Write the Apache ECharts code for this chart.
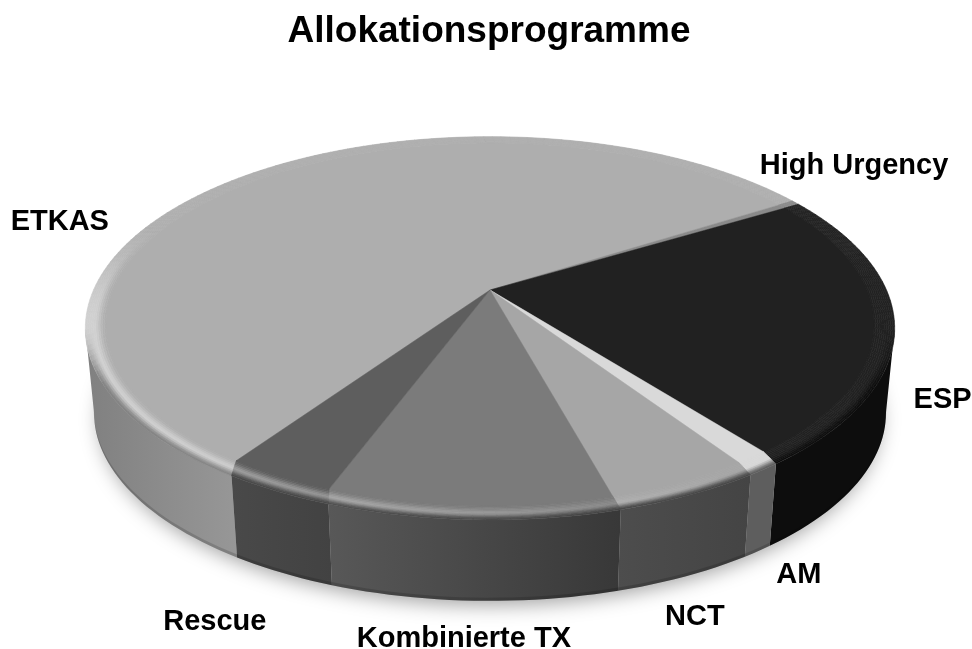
<!DOCTYPE html>
<html><head><meta charset="utf-8">
<style>html,body{margin:0;padding:0;background:#fff}#c{width:972px;height:649px}</style>
<script src="https://cdn.jsdelivr.net/npm/echarts@6/dist/echarts.min.js"></script>
</head><body><div id="c"></div>
<script>
// ---- data ----
const titleText = 'Allokationsprogramme';
const categories = ['ETKAS', 'High Urgency', 'ESP', 'AM', 'NCT', 'Kombinierte TX', 'Rescue'];
const shares = [56.4, 0.4, 23.0, 1.2, 5.1, 10.0, 3.9];
// ---- styles ----
const topGrey = [0xae, 0x8a, 0x21, 0xd9, 0xa6, 0x7b, 0x5e];
const wallGreyLeft = [0x80, 0x70, 0x0d, 0x5e, 0x4d, 0x58, 0x49];
const wallGreyRight = [0x97, 0x70, 0x0d, 0x5e, 0x44, 0x38, 0x42];
const labelOffsets = [[-190, 48], [58.5, -37], [48, 75], [31, 107], [3, 123], [-4, 119], [-52, 134]];
// ---- projection of the tilted disc ----
const START = 214.6, K = 0.2, CX = 490;
const TOP = {cy: 290, A: 184, B: 396.5};
const BOT = {cy: 375, A: 180.7, B: 388};
const BEVEL_IN = 0.95, BANDS = 10, STEP = 1.5;
const total = shares.reduce((a, b) => a + b, 0);
const bounds = [];
let cursor = START;
shares.forEach(v => {
  const sweep = v / total * 360;
  const a = cursor >= 360 ? cursor - 360 : cursor;
  bounds.push([a, a + sweep]);
  cursor = a + sweep;
});

function proj(deg, r, d) {
  const t = deg * Math.PI / 180, x = r * Math.sin(t), y = r * Math.cos(t), q = 1 + K * y;
  return [CX + d.B * x / q, d.cy - d.A * y / q];
}
function norm(a) { return ((a % 360) + 360) % 360; }
function warp(a, t) { // slice seams bend towards the viewer over the rounded edge
  const n = norm(a);
  if (Math.abs(n - 180) > 90) return a;
  return a + (164.5 - n) * 0.035 * t;
}
function grey(v) { v = Math.max(0, Math.min(255, Math.round(v))); return 'rgb(' + v + ',' + v + ',' + v + ')'; }
function sstep(a, b, x) { const t = Math.max(0, Math.min(1, (x - a) / (b - a))); return t * t * (3 - 2 * t); }
function arcPts(a0, a1, r, d) {
  const n = Math.max(2, Math.ceil(Math.abs(a1 - a0) / STEP)), out = [];
  for (let i = 0; i <= n; i++) out.push(proj(a0 + (a1 - a0) * i / n, r, d));
  return out;
}
function wallRange(i) {
  const a = warp(bounds[i][0], 1), b = warp(bounds[i][1], 1);
  const ra = Math.max(a, 101.5), rb = Math.min(b, 258.5);
  return ra < rb ? [ra, rb] : null;
}
function shadowItem() {
  return {type: 'group', children: [{
    type: 'polygon', shape: {points: arcPts(0, 360, 0.985, BOT)},
    style: {fill: '#cfcfcf', shadowBlur: 20, shadowColor: 'rgba(0,0,0,0.38)', shadowOffsetY: 8}
  }]};
}
function wallItem(params) {
  const i = params.dataIndex, w = wallRange(i), kids = [];
  if (!w) return {type: 'group', children: []};
  const t = arcPts(w[0], w[1], 1, TOP), b = arcPts(w[0], w[1], 1, BOT);
  const fill = new echarts.graphic.LinearGradient(0, 0, 1, 0, [
    {offset: 0, color: grey(wallGreyLeft[i])}, {offset: 1, color: grey(wallGreyRight[i])}]);
  kids.push({type: 'polygon', shape: {points: t.concat(b.slice().reverse())}, style: {fill: fill}});
  const inner = b.map((p, j) => [p[0] + (t[j][0] - p[0]) * 0.04, p[1] + (t[j][1] - p[1]) * 0.04]);
  kids.push({type: 'polygon', shape: {points: inner.concat(b.slice().reverse())},
    style: {fill: 'rgba(0,0,0,0.15)'}});
  return {type: 'group', children: kids};
}
function topItem(params) {
  const i = params.dataIndex, a0 = bounds[i][0], a1 = bounds[i][1], kids = [];
  const c = grey(topGrey[i]);
  kids.push({type: 'polygon', shape: {points: [[CX, TOP.cy]].concat(arcPts(a0, a1, BEVEL_IN + 0.001, TOP))},
    style: {fill: c, stroke: c, lineWidth: 0.5}});
  const n = Math.max(2, Math.ceil((a1 - a0) / STEP));
  for (let b = 0; b < BANDS; b++) {
    const t0 = b / BANDS, t1 = (b + 1) / BANDS;
    const r0 = BEVEL_IN + (1 - BEVEL_IN) * t0, r1 = BEVEL_IN + (1 - BEVEL_IN) * t1;
    const s0 = warp(a0, t0), e0 = warp(a1, t0), s1 = warp(a0, t1), e1 = warp(a1, t1);
    for (let j = 0; j < n; j++) {
      const f = j / n, g = (j + 1) / n;
      const mid = norm(s0 + (e0 - s0) * (f + g) / 2);
      const light = Math.max(0, Math.cos((mid - 240) * Math.PI / 180)) * (1 - sstep(262, 296, mid));
      const wallW = 1 - sstep(60, 80, Math.abs(mid - 180));
      const T = topGrey[i];
      const wg = wallGreyLeft[i] + (wallGreyRight[i] - wallGreyLeft[i]) * sstep(265, 95, mid);
      const tm = (t0 + t1) / 2;
      const bump = (255 - T) * 0.45 * light * sstep(0.05, 0.6, tm);
      const mix = wallW * sstep(0.5, 1, tm);
      const col = grey((T + bump) * (1 - mix) + wg * mix);
      kids.push({type: 'polygon', shape: {points: [
        proj(s0 + (e0 - s0) * f, r0, TOP), proj(s0 + (e0 - s0) * g, r0, TOP),
        proj(s1 + (e1 - s1) * g, r1, TOP), proj(s1 + (e1 - s1) * f, r1, TOP)]},
        style: {fill: col, stroke: col, lineWidth: 0.6}});
    }
  }
  return {type: 'group', children: kids};
}
function labelItem(params) {
  const i = params.dataIndex, m = (bounds[i][0] + bounds[i][1]) / 2, p = proj(m, 1, TOP);
  return {type: 'text', style: {
    text: categories[i], x: p[0] + labelOffsets[i][0], y: p[1] + labelOffsets[i][1],
    textAlign: 'center', textVerticalAlign: 'middle', fill: '#000',
    font: 'bold 29px "Liberation Sans", Arial, sans-serif'}};
}
const rows = shares.map((v, i) => ({name: categories[i], value: v}));
const chart = echarts.init(document.getElementById('c'), null, {renderer: 'canvas'});
chart.setOption({
  animation: false,
  backgroundColor: '#fff',
  title: {text: titleText, left: 484, top: 8, textAlign: 'center',
    textStyle: {fontFamily: '"Liberation Sans", Arial, sans-serif', fontWeight: 'bold', fontSize: 37, color: '#000'}},
  tooltip: {show: false},
  series: [
    {type: 'custom', coordinateSystem: 'none', silent: true, z: 1, data: [rows[0]], renderItem: shadowItem},
    {type: 'custom', coordinateSystem: 'none', silent: true, z: 2, data: rows, renderItem: wallItem},
    {type: 'custom', coordinateSystem: 'none', silent: true, z: 3, data: rows, renderItem: topItem},
    {type: 'custom', coordinateSystem: 'none', silent: true, z: 4, data: rows, renderItem: labelItem}
  ]
});
</script></body></html>
